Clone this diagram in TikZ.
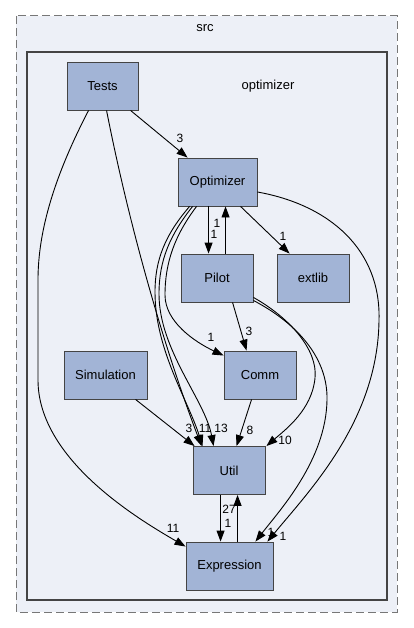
\documentclass[tikz,border=0pt]{standalone}
\usepackage{fontspec}
\setmainfont{Liberation Sans}
\usetikzlibrary{arrows.meta,calc}
\definecolor{bgc}{HTML}{EDF0F7}
\definecolor{nodefill}{HTML}{A2B4D6}
\definecolor{nodeline}{HTML}{444444}
\definecolor{dashc}{HTML}{777777}
\tikzset{
  dirbox/.style={draw=nodeline, fill=nodefill, line width=0.9pt, minimum height=48pt, inner sep=0pt, font=\fontsize{13}{15}\selectfont},
  edge/.style={line width=0.9pt, -{Triangle[length=11pt,width=8pt]}},
  lbl/.style={inner sep=0pt, font=\fontsize{12}{13}\selectfont},
  ttl/.style={inner sep=0pt, font=\fontsize{13}{15}\selectfont}
}
\begin{document}
\begin{tikzpicture}[x=1pt,y=-1pt]
\useasboundingbox[fill=white] (0,0) rectangle (413,628);
\draw[dashc, fill=bgc, line width=1pt, dash pattern=on 8pt off 4pt] (16,16) rectangle (397,612);
\node[ttl] (srclbl) at (205,28) {src};
\draw[nodeline, fill=bgc, line width=2pt] (27,52) rectangle (387,600);
\node[ttl] (optlbl) at (268,86) {optimizer};

\node[dirbox, minimum width=71pt] (Tests) at (102.5,86) {Tests};
\node[dirbox, minimum width=79pt] (Optimizer) at (217.5,182) {Optimizer};
\node[dirbox, minimum width=72pt] (Pilot) at (217,278) {Pilot};
\node[dirbox, minimum width=72pt] (extlib) at (313,278) {extlib};
\node[dirbox, minimum width=72pt] (Comm) at (260,375) {Comm};
\node[dirbox, minimum width=83pt] (Simulation) at (105.5,375) {Simulation};
\node[dirbox, minimum width=72pt] (Util) at (229,470.5) {Util};
\node[dirbox, minimum width=87pt] (Expression) at (229.5,566) {Expression};

% Tests edges
\draw[edge] ($(Tests.south west)+(64,0)$) -- ($(Optimizer.north west)+(10,0)$);
\node[lbl] (l3a) at (180,138) {3};
\draw[edge] ($(Tests.south west)+(22,0)$) .. controls (55,175) and (38,230) .. (38,280)
  -- (38,380) .. controls (38,460) and (140,520) .. ($(Expression.north west)+(0,5)$);
\node[lbl] (l11a) at (173,528) {11};
\draw[edge] ($(Tests.south west)+(40,0)$) .. controls (130,230) and (165,350) .. ($(Util.north west)+(9,0)$);

% Optimizer edges
\draw[edge] ($(Optimizer.south west)+(12,0)$) .. controls (165,235) and (155,260) .. (155,292)
  .. controls (155,350) and (188,400) .. ($(Util.north west)+(10,0)$);
\draw[edge] ($(Optimizer.south west)+(15,0)$) .. controls (170,235) and (159,260) .. (159,294)
  .. controls (159,350) and (205,400) .. ($(Util.north west)+(21,0)$);
\node[lbl] (l11b) at (205,428) {11};
\node[lbl] (l13) at (221,428) {13};
\draw[edge] ($(Optimizer.south west)+(19,0)$) .. controls (175,235) and (165,262) .. (165,295)
  .. controls (165,322) and (195,342) .. ($(Comm.north west)+(0,5)$);
\node[lbl] (l1c) at (211,337) {1};
\draw[edge] ($(Optimizer.south west)+(31,0)$) -- ($(Pilot.north west)+(28,0)$);
\draw[edge] ($(Pilot.north west)+(45,0)$) -- ($(Optimizer.south west)+(48,0)$);
\node[lbl] (l1p1) at (217,223) {1};
\node[lbl] (l1p2) at (214,234) {1};
\draw[edge] ($(Optimizer.south west)+(63,0)$) -- ($(extlib.north west)+(13,0)$);
\node[lbl] (l1e) at (283,236) {1};
\draw[edge] ($(Optimizer.east)+(0,10)$) .. controls (330,205) and (381,250) .. (379,320)
  .. controls (378,420) and (310,490) .. ($(Expression.north east)+(-6,0)$);

% Pilot edges
\draw[edge] ($(Pilot.south west)+(52,0)$) -- ($(Comm.north west)+(23,0)$);
\node[lbl] (l3b) at (249,331) {3};
\draw[edge] ($(Pilot.south east)+(0,-5)$) .. controls (290,318) and (318,350) .. (315,378)
  .. controls (312,410) and (285,430) .. ($(Util.north east)+(1,0)$);
\node[lbl] (l10) at (285,440) {10};
\draw[edge] ($(Pilot.south east)+(0,-2)$) .. controls (300,325) and (328,360) .. (327,400)
  .. controls (326,460) and (280,510) .. ($(Expression.north east)+(-18,0)$);
\node[lbl] (l1x1) at (271,532) {1};
\node[lbl] (l1x2) at (283,536) {1};

% Simulation, Comm
\draw[edge] ($(Simulation.south west)+(72,0)$) -- ($(Util.north west)+(2,0)$);
\node[lbl] (l3c) at (189,428) {3};
\draw[edge] ($(Comm.south west)+(28,0)$) -- ($(Util.north west)+(44,0)$);
\node[lbl] (l8) at (250,430) {8};

% Util <-> Expression
\draw[edge] ($(Util.south west)+(28,0)$) -- ($(Expression.north west)+(35,0)$);
\draw[edge] ($(Expression.north west)+(52,0)$) -- ($(Util.south west)+(45,0)$);
\node[lbl] (l27) at (229,509) {27};
\node[lbl] (l1u) at (228,523) {1};
\end{tikzpicture}
\end{document}
